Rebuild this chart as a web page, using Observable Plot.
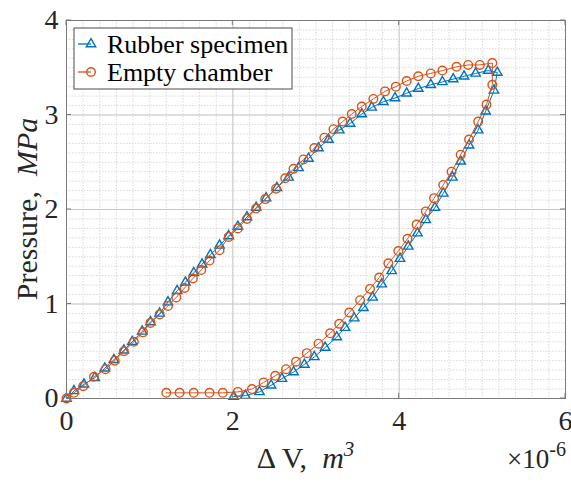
<!DOCTYPE html>
<html>
<head>
<meta charset="utf-8">
<script src="https://cdn.jsdelivr.net/npm/d3@7"></script>
<script src="https://cdn.jsdelivr.net/npm/@observablehq/plot@0.6"></script>
<style>
  html, body { margin: 0; padding: 0; background: white; }
  #chart { width: 571px; height: 483px; }
</style>
</head>
<body>
<div id="chart"></div>
<script>
// Volume change (×10^-6 m^3) and pressure (MPa), loading then unloading
const rubberDV = [0, 0.09, 0.21, 0.34, 0.46, 0.57, 0.69, 0.79, 0.91, 1.01, 1.12, 1.22, 1.33, 1.43, 1.53, 1.63, 1.73, 1.84, 1.95, 2.06, 2.17, 2.28, 2.40, 2.53, 2.67, 2.79, 2.91, 3.03, 3.15, 3.28, 3.41, 3.55, 3.67, 3.81, 3.95, 4.09, 4.23, 4.38, 4.52, 4.65, 4.78, 4.92, 5.07, 5.18,
  5.14, 5.04, 4.95, 4.84, 4.74, 4.64, 4.53, 4.43, 4.32, 4.22, 4.11, 4.01, 3.91, 3.79, 3.68, 3.57, 3.46, 3.35, 3.25, 3.11, 2.98, 2.86, 2.73, 2.59, 2.46, 2.32, 2.15, 2.01];
const rubberP = [0, 0.08, 0.15, 0.22, 0.32, 0.41, 0.51, 0.60, 0.71, 0.81, 0.90, 1.02, 1.14, 1.23, 1.33, 1.42, 1.52, 1.62, 1.72, 1.82, 1.92, 2.02, 2.12, 2.23, 2.34, 2.44, 2.54, 2.65, 2.74, 2.84, 2.91, 3.01, 3.08, 3.14, 3.18, 3.23, 3.28, 3.32, 3.35, 3.38, 3.41, 3.44, 3.47, 3.45,
  3.26, 3.04, 2.84, 2.68, 2.51, 2.34, 2.17, 2.02, 1.89, 1.75, 1.61, 1.48, 1.35, 1.21, 1.07, 0.96, 0.85, 0.75, 0.65, 0.54, 0.44, 0.36, 0.28, 0.21, 0.14, 0.07, 0.03, 0.02];

const emptyDV = [0, 0.09, 0.20, 0.33, 0.47, 0.58, 0.69, 0.81, 0.92, 1.01, 1.12, 1.22, 1.32, 1.42, 1.52, 1.62, 1.72, 1.84, 1.95, 2.06, 2.17, 2.28, 2.39, 2.52, 2.63, 2.73, 2.85, 2.98, 3.10, 3.21, 3.32, 3.43, 3.55, 3.69, 3.83, 3.96, 4.09, 4.23, 4.38, 4.52, 4.69, 4.83, 4.97, 5.12,
  5.12, 5.05, 4.95, 4.84, 4.74, 4.63, 4.53, 4.42, 4.32, 4.21, 4.10, 3.99, 3.87, 3.76, 3.65, 3.53, 3.40, 3.28, 3.17, 3.03, 2.89, 2.76, 2.64, 2.51, 2.37, 2.23, 2.06, 1.88, 1.72, 1.53, 1.36, 1.20];
const emptyP = [0, 0.06, 0.13, 0.23, 0.31, 0.40, 0.50, 0.60, 0.70, 0.80, 0.89, 0.98, 1.07, 1.17, 1.27, 1.36, 1.46, 1.57, 1.71, 1.80, 1.90, 2.01, 2.11, 2.22, 2.33, 2.43, 2.53, 2.65, 2.76, 2.85, 2.93, 3.01, 3.09, 3.17, 3.25, 3.30, 3.36, 3.41, 3.44, 3.47, 3.51, 3.53, 3.53, 3.55,
  3.32, 3.11, 2.93, 2.74, 2.58, 2.40, 2.26, 2.12, 1.98, 1.84, 1.69, 1.56, 1.43, 1.28, 1.16, 1.04, 0.91, 0.79, 0.69, 0.58, 0.48, 0.39, 0.31, 0.24, 0.17, 0.10, 0.07, 0.06, 0.06, 0.06, 0.06, 0.06];

const seriesNames = ["Rubber specimen", "Empty chamber"];
const xTicks = [0, 2, 4, 6];
const yTicks = [0, 1, 2, 3, 4];
const xMinor = d3.range(0, 31).map(i => i * 0.2);
const yMinor = d3.range(0, 41).map(i => i * 0.1);

const blue = "#0072BD";
const orange = "#D95319";
const serif = "Liberation Serif, Times New Roman, serif";
const ink = "#262626";

const rubber = rubberDV.map((v, i) => ({dv: v, p: rubberP[i], i}));
const empty = emptyDV.map((v, i) => ({dv: v, p: emptyP[i], i}));

const chart = Plot.plot({
  width: 571,
  height: 483,
  marginLeft: 66,
  marginRight: 6,
  marginTop: 20,
  marginBottom: 85,
  x: {domain: [0, 6]},
  y: {domain: [0, 4]},
  style: {fontFamily: serif, fontSize: "28px", color: ink, background: "white", overflow: "visible"},
  marks: [
    Plot.ruleX(xMinor, {stroke: "#d9d9d9", strokeDasharray: "1.5,1.5"}),
    Plot.ruleY(yMinor, {stroke: "#d9d9d9", strokeDasharray: "1.5,1.5"}),
    Plot.ruleX(xTicks, {stroke: "#c8c8c8"}),
    Plot.ruleY(yTicks, {stroke: "#c8c8c8"}),
    Plot.axisX({ticks: xTicks, tickFormat: d => String(d), tickSize: 0, tickPadding: 12, fontSize: 28, fontFamily: serif, fill: ink, label: null}),
    Plot.axisY({ticks: yTicks, tickFormat: d => String(d), tickSize: 0, tickPadding: 8, fontSize: 28, fontFamily: serif, fill: ink, label: null}),
    Plot.line(rubber, {x: "dv", y: "p", stroke: blue, strokeWidth: 1}),
    Plot.dot(rubber, {x: "dv", y: "p", stroke: blue, symbol: "triangle", r: 3.5, strokeWidth: 1.4, fill: "none"}),
    Plot.line(empty, {x: "dv", y: "p", stroke: orange, strokeWidth: 1}),
    Plot.dot(empty, {x: "dv", y: "p", stroke: orange, symbol: "circle", r: 4.3, strokeWidth: 1.4, fill: "none"}),
    Plot.frame({stroke: "#7a7a7a", strokeWidth: 1})
  ]
});

document.getElementById("chart").appendChild(chart);

// Axis titles, exponent, inward ticks and legend added on top of the plot's SVG
const svg = d3.select(chart);
const fx = chart.scale("x");
const fy = chart.scale("y");
const [x0, x1] = fx.range;
const [y0, y1] = fy.range; // y0 = bottom, y1 = top

// inward tick marks on all four sides
const tickLen = 5;
const ticks = svg.append("g").attr("stroke", "#7a7a7a").attr("stroke-width", 1);
xTicks.forEach(t => {
  const px = fx.apply(t);
  ticks.append("line").attr("x1", px).attr("x2", px).attr("y1", y0).attr("y2", y0 - tickLen);
  ticks.append("line").attr("x1", px).attr("x2", px).attr("y1", y1).attr("y2", y1 + tickLen);
});
yTicks.forEach(t => {
  const py = fy.apply(t);
  ticks.append("line").attr("x1", x0).attr("x2", x0 + tickLen).attr("y1", py).attr("y2", py);
  ticks.append("line").attr("x1", x1).attr("x2", x1 - tickLen).attr("y1", py).attr("y2", py);
});

// x-axis title
const xt = svg.append("text")
  .attr("x", (x0 + x1) / 2 - 10)
  .attr("y", 468)
  .attr("text-anchor", "middle")
  .attr("font-family", serif)
  .attr("font-size", 30)
  .attr("fill", ink);
xt.append("tspan").text("\u0394 V,  ");
xt.append("tspan").attr("font-style", "italic").text("m");
xt.append("tspan").attr("font-size", 21).attr("dy", -12).attr("font-style", "italic").text("3");

// exponent multiplier
const ex = svg.append("text")
  .attr("x", x1 + 1)
  .attr("y", 468)
  .attr("text-anchor", "end")
  .attr("font-family", serif)
  .attr("font-size", 27)
  .attr("fill", ink);
ex.append("tspan").text("\u00d710");
ex.append("tspan").attr("font-size", 20).attr("dy", -12).text("-6");

// y-axis title
const yt = svg.append("text")
  .attr("transform", `translate(37,${(y0 + y1) / 2}) rotate(-90)`)
  .attr("text-anchor", "middle")
  .attr("font-family", serif)
  .attr("font-size", 30)
  .attr("fill", ink);
yt.append("tspan").text("Pressure,  ");
yt.append("tspan").attr("font-style", "italic").text("MPa");

// legend
const lg = svg.append("g");
lg.append("rect")
  .attr("x", x0 + 8).attr("y", y1 + 8)
  .attr("width", 218).attr("height", 61)
  .attr("fill", "white").attr("stroke", "#4d4d4d").attr("stroke-width", 1);
const entries = [
  {name: seriesNames[0], color: blue, symbol: d3.symbolTriangle, size: Math.PI * 3.5 * 3.5},
  {name: seriesNames[1], color: orange, symbol: d3.symbolCircle, size: Math.PI * 4.3 * 4.3}
];
entries.forEach((e, k) => {
  const cy = y1 + 24 + k * 28;
  const mx = x0 + 25;
  lg.append("line").attr("x1", x0 + 12).attr("x2", mx).attr("y1", cy).attr("y2", cy)
    .attr("stroke", e.color).attr("stroke-width", 1.3);
  lg.append("path").attr("d", d3.symbol(e.symbol, e.size)()).attr("transform", `translate(${mx},${cy})`)
    .attr("fill", "none").attr("stroke", e.color).attr("stroke-width", 1.4);
  lg.append("text").attr("x", x0 + 41).attr("y", cy + 9)
    .attr("text-anchor", "start")
    .attr("font-family", serif).attr("font-size", 26).attr("fill", "#000")
    .text(e.name);
});
</script>
</body>
</html>
